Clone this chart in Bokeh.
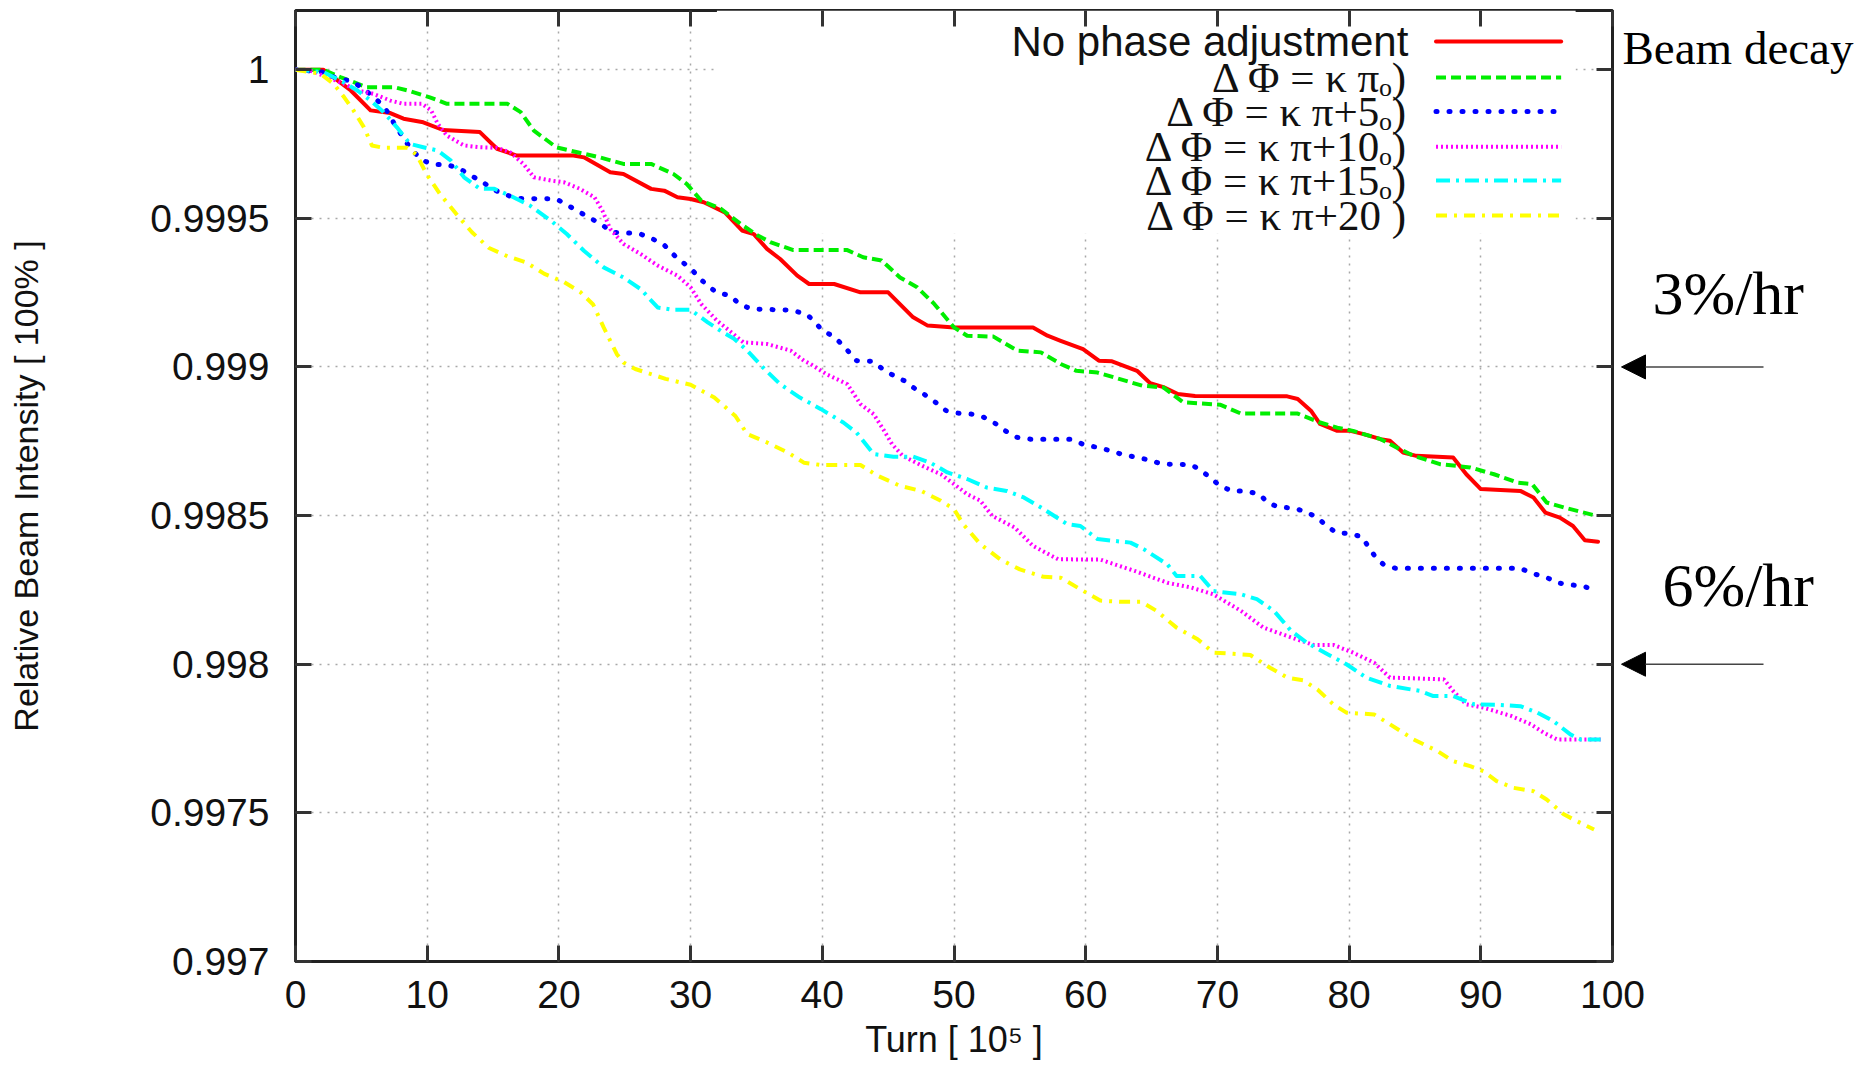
from bokeh.plotting import figure
from bokeh.layouts import row
from bokeh.models import (Range1d, FixedTicker, LinearAxis, Label, Arrow,
                          NormalHead, BoxAnnotation)
from bokeh.embed import file_html
from bokeh.resources import INLINE

# ---------------- data ----------------
red_x = [0, 2.1, 4.2, 5.7, 7.2, 8.2, 9.7, 11.2, 14.0, 15.3, 16.8, 21.1, 21.9, 23.9, 24.9,
         27.0, 28.0, 29.0, 30.0, 31.0, 32.6, 33.9, 34.8, 35.8, 36.8, 38.1, 39.0, 40.9,
         42.9, 45.0, 46.9, 48.0, 50.0, 56.0, 57.1, 58.1, 59.8, 61.0, 62.0, 63.9, 64.9,
         65.9, 67.0, 68.3, 75.3, 76.1, 77.1, 77.8, 79.1, 80.1, 81.1, 82.4, 83.1, 84.1,
         85.1, 87.9, 88.9, 90.0, 93.0, 94.0, 94.9, 96.0, 97.0, 97.9, 98.9]
red_y = [1.000000, 1.000000, 0.999930, 0.999863, 0.999854, 0.999835, 0.999823, 0.999797,
         0.999790, 0.999734, 0.999711, 0.999711, 0.999705, 0.999655, 0.999649, 0.999599,
         0.999593, 0.999571, 0.999565, 0.999554, 0.999520, 0.999459, 0.999447, 0.999397,
         0.999363, 0.999307, 0.999279, 0.999279, 0.999251, 0.999251, 0.999167, 0.999139,
         0.999133, 0.999133, 0.999105, 0.999088, 0.999060, 0.999021, 0.999019, 0.998987,
         0.998945, 0.998932, 0.998909, 0.998902, 0.998901, 0.998892, 0.998853, 0.998808,
         0.998785, 0.998785, 0.998774, 0.998757, 0.998752, 0.998712, 0.998701, 0.998695,
         0.998639, 0.998589, 0.998583, 0.998561, 0.998510, 0.998493, 0.998465, 0.998417,
         0.998412]

green_x = [0, 2.1, 3.4, 5.4, 7.5, 8.5, 10.2, 11.5, 16.1, 17.1, 18.1, 19.8, 21.4, 23.1, 24.9,
           27.0, 28.7, 29.7, 30.8, 32.3, 33.8, 35.1, 36.1, 37.8, 41.9, 43.1, 44.5, 45.9,
           47.2, 48.5, 50.0, 51.0, 53.0, 54.8, 56.6, 58.1, 59.3, 60.9, 62.6, 64.3, 65.9,
           67.4, 70.2, 71.8, 76.1, 77.8, 79.1, 80.3, 82.4, 83.6, 84.9, 86.9, 89.2, 91.0,
           92.8, 93.9, 95.0, 96.5, 98.8]
green_y = [1.000000, 1.000000, 0.999975, 0.999941, 0.999941, 0.999930, 0.999907, 0.999885,
           0.999885, 0.999857, 0.999795, 0.999739, 0.999722, 0.999705, 0.999683, 0.999683,
           0.999649, 0.999616, 0.999560, 0.999532, 0.999481, 0.999442, 0.999419, 0.999393,
           0.999393, 0.999369, 0.999358, 0.999301, 0.999268, 0.999212, 0.999133, 0.999105,
           0.999102, 0.999055, 0.999049, 0.999010, 0.998987, 0.998981, 0.998959, 0.998937,
           0.998931, 0.998881, 0.998873, 0.998843, 0.998843, 0.998813, 0.998796, 0.998785,
           0.998757, 0.998729, 0.998701, 0.998673, 0.998662, 0.998639, 0.998611, 0.998606,
           0.998544, 0.998525, 0.998499]

blue_x = [0, 2.1, 3.2, 4.2, 5.0, 5.8, 6.5, 7.0, 7.5, 8.4, 9.0, 9.7, 10.5, 11.5, 12.5, 13.3,
          14.2, 14.9, 15.8, 16.8, 19.8, 20.7, 21.6, 22.5, 23.3, 24.1, 25.2, 26.2, 27.1,
          28.0, 29.0, 30.0, 30.6, 31.3, 32.0, 33.0, 33.7, 34.6, 37.6, 38.8, 39.4, 40.0,
          40.9, 41.6, 42.6, 43.8, 44.5, 45.3, 46.2, 46.9, 47.8, 48.6, 49.4, 50.2, 51.4,
          52.3, 53.2, 53.9, 54.8, 55.8, 58.8, 59.8, 60.9, 61.9, 62.9, 63.9, 64.9, 65.8,
          68.0, 68.7, 69.5, 70.2, 71.1, 72.1, 73.2, 73.8, 74.6, 75.8, 76.7, 77.6, 78.2,
          79.0, 80.1, 81.0, 81.5, 82.0, 82.6, 83.5, 93.0, 93.9, 94.9, 95.8, 96.8, 97.8,
          98.8]
blue_y = [1.000000, 0.999992, 0.999969, 0.999963, 0.999941, 0.999913, 0.999885, 0.999857,
          0.999818, 0.999756, 0.999722, 0.999694, 0.999681, 0.999681, 0.999666, 0.999644,
          0.999623, 0.999599, 0.999582, 0.999567, 0.999565, 0.999543, 0.999520, 0.999498,
          0.999477, 0.999453, 0.999451, 0.999447, 0.999431, 0.999410, 0.999365, 0.999332,
          0.999302, 0.999273, 0.999250, 0.999240, 0.999212, 0.999195, 0.999191, 0.999178,
          0.999153, 0.999122, 0.999102, 0.999071, 0.999021, 0.999019, 0.998996, 0.998974,
          0.998954, 0.998931, 0.998906, 0.998881, 0.998853, 0.998845, 0.998841, 0.998830,
          0.998808, 0.998785, 0.998763, 0.998757, 0.998757, 0.998740, 0.998729, 0.998718,
          0.998704, 0.998696, 0.998686, 0.998673, 0.998671, 0.998654, 0.998626, 0.998600,
          0.998583, 0.998583, 0.998572, 0.998544, 0.998529, 0.998525, 0.998513, 0.998493,
          0.998469, 0.998443, 0.998439, 0.998428, 0.998392, 0.998361, 0.998336, 0.998323,
          0.998323, 0.998305, 0.998294, 0.998274, 0.998267, 0.998263, 0.998244]

magenta_x = [0, 1.1, 2.4, 3.7, 4.7, 5.9, 7.2, 8.2, 9.6, 10.3, 10.8, 11.5, 12.8, 14.0, 15.3,
             16.3, 17.3, 18.1, 19.4, 20.4, 21.6, 22.7, 23.3, 23.9, 24.9, 26.2, 27.5, 29.0,
             30.0, 30.8, 32.0, 33.0, 34.0, 35.8, 37.6, 38.6, 39.1, 40.3, 41.9, 42.9, 43.9,
             44.7, 45.3, 46.1, 47.6, 49.0, 50.0, 51.0, 52.0, 52.9, 54.6, 56.0, 57.9, 61.1,
             63.7, 66.2, 68.0, 69.7, 71.8, 73.5, 75.8, 77.3, 78.8, 80.3, 81.9, 83.1, 87.2,
             87.9, 88.9, 90.2, 92.3, 93.8, 94.8, 95.8, 99.1]
magenta_y = [1.000000, 0.999997, 0.999975, 0.999952, 0.999930, 0.999919, 0.999896, 0.999885,
             0.999885, 0.999863, 0.999818, 0.999778, 0.999745, 0.999739, 0.999737, 0.999722,
             0.999683, 0.999638, 0.999627, 0.999621, 0.999599, 0.999571, 0.999526, 0.999464,
             0.999414, 0.999380, 0.999341, 0.999307, 0.999268, 0.999212, 0.999156, 0.999120,
             0.999083, 0.999077, 0.999055, 0.999021, 0.999010, 0.998976, 0.998942, 0.998875,
             0.998841, 0.998785, 0.998740, 0.998701, 0.998667, 0.998639, 0.998606, 0.998572,
             0.998550, 0.998499, 0.998460, 0.998398, 0.998353, 0.998352, 0.998314, 0.998274,
             0.998258, 0.998235, 0.998179, 0.998123, 0.998087, 0.998065, 0.998065, 0.998039,
             0.998005, 0.997955, 0.997949, 0.997910, 0.997865, 0.997854, 0.997826, 0.997798,
             0.997769, 0.997747, 0.997747]

cyan_x = [0, 2.1, 3.4, 4.7, 5.7, 6.7, 7.7, 8.7, 9.7, 10.8, 11.8, 12.8, 14.0, 15.1, 16.3,
          17.8, 19.4, 20.6, 21.9, 23.4, 24.9, 26.2, 27.5, 28.7, 30.0, 31.3, 32.5, 33.3,
          34.3, 35.5, 36.8, 38.3, 39.9, 41.6, 42.6, 43.9, 45.4, 46.9, 48.2, 49.5, 51.0,
          52.5, 54.0, 55.3, 56.8, 58.6, 59.6, 60.9, 63.4, 64.4, 66.2, 66.9, 68.7, 69.7,
          71.8, 73.0, 74.3, 75.6, 76.8, 78.4, 79.8, 81.3, 83.1, 85.4, 86.4, 87.9, 89.5,
          91.5, 93.0, 94.3, 95.5, 96.8, 97.6, 99.1]
cyan_y = [1.000000, 0.999992, 0.999964, 0.999930, 0.999896, 0.999857, 0.999806, 0.999750,
          0.999739, 0.999728, 0.999694, 0.999638, 0.999599, 0.999599, 0.999576, 0.999543,
          0.999492, 0.999447, 0.999391, 0.999335, 0.999301, 0.999262, 0.999200, 0.999192,
          0.999192, 0.999150, 0.999115, 0.999095, 0.999055, 0.998998, 0.998942, 0.998897,
          0.998858, 0.998813, 0.998779, 0.998707, 0.998698, 0.998698, 0.998678, 0.998645,
          0.998623, 0.998594, 0.998583, 0.998561, 0.998522, 0.998471, 0.998465, 0.998421,
          0.998409, 0.998387, 0.998336, 0.998297, 0.998297, 0.998246, 0.998235, 0.998219,
          0.998179, 0.998112, 0.998072, 0.998033, 0.998000, 0.997955, 0.997927, 0.997910,
          0.997893, 0.997893, 0.997865, 0.997863, 0.997859, 0.997837, 0.997809, 0.997764,
          0.997747, 0.997747]

yellow_x = [0, 1.9, 2.9, 3.7, 4.4, 5.2, 5.8, 6.7, 8.5, 9.2, 10.0, 11.0, 12.2, 13.4, 14.7,
            16.1, 17.5, 18.9, 20.4, 21.6, 22.6, 23.4, 24.4, 24.9, 25.8, 28.1, 30.0, 31.8,
            33.4, 34.3, 35.8, 37.4, 38.6, 39.9, 42.9, 44.2, 45.9, 47.5, 49.0, 50.0, 50.7,
            52.0, 53.5, 55.0, 56.8, 58.1, 59.6, 61.1, 62.6, 64.2, 65.4, 66.9, 68.5, 69.7,
            71.2, 72.5, 74.0, 75.3, 76.5, 77.6, 78.8, 79.8, 81.9, 83.1, 84.9, 86.7, 87.9,
            89.2, 90.2, 91.2, 92.5, 94.0, 95.0, 96.3, 97.3, 98.6]
yellow_y = [1.000000, 0.999986, 0.999952, 0.999907, 0.999863, 0.999806, 0.999745, 0.999737,
            0.999737, 0.999714, 0.999645, 0.999580, 0.999515, 0.999453, 0.999400, 0.999372,
            0.999352, 0.999313, 0.999285, 0.999253, 0.999210, 0.999133, 0.999043, 0.999015,
            0.998993, 0.998960, 0.998940, 0.998897, 0.998835, 0.998774, 0.998746, 0.998712,
            0.998678, 0.998670, 0.998670, 0.998634, 0.998600, 0.998583, 0.998550, 0.998522,
            0.998471, 0.998404, 0.998353, 0.998319, 0.998294, 0.998291, 0.998252, 0.998214,
            0.998210, 0.998210, 0.998179, 0.998123, 0.998084, 0.998039, 0.998035, 0.998031,
            0.997988, 0.997955, 0.997946, 0.997915, 0.997865, 0.997837, 0.997831, 0.997798,
            0.997747, 0.997708, 0.997674, 0.997657, 0.997640, 0.997607, 0.997584, 0.997573,
            0.997545, 0.997495, 0.997472, 0.997444]

series_names = ["No phase adjustment",
                "\u0394 \u03a6 = \u03ba \u03c0\u2092)",
                "\u0394 \u03a6 = \u03ba \u03c0+5\u2092)",
                "\u0394 \u03a6 = \u03ba \u03c0+10\u2092)",
                "\u0394 \u03a6 = \u03ba \u03c0+15\u2092)",
                "\u0394 \u03a6 = \u03ba \u03c0+20 )"]

x_ticks = [0, 10, 20, 30, 40, 50, 60, 70, 80, 90, 100]
y_ticks = [0.997, 0.9975, 0.998, 0.9985, 0.999, 0.9995, 1.0]
y_tick_labels = ["0.997", "0.9975", "0.998", "0.9985", "0.999", "0.9995", "1"]

rate_levels = [0.999, 0.998]
rate_labels = ["3%/hr", "6%/hr"]
side_title = "Beam decay"

# ---------------- styles ----------------
SANS = "Liberation Sans"
SERIF = "Liberation Serif"
styles = [
    dict(line_color="#ff0000", line_width=4, line_dash="solid", line_cap="round"),
    dict(line_color="#00ee00", line_width=4, line_dash="10 5", line_cap="butt"),
    dict(line_color="#0000ff", line_width=5, line_dash="1 12", line_cap="round"),
    dict(line_color="#ff00ff", line_width=4, line_dash="2 3", line_cap="butt"),
    dict(line_color="#00ffff", line_width=4, line_dash="14 6 3 6", line_cap="butt"),
    dict(line_color="#ffff00", line_width=4, line_dash="11 7 3 7", line_cap="butt"),
]

FRAME_W, FRAME_H = 1317, 951
TOP = 10
RIGHT_PAD = 40

p = figure(frame_width=FRAME_W, frame_height=FRAME_H,
           min_border_left=295, min_border_right=RIGHT_PAD, min_border_top=TOP,
           min_border_bottom=106,
           x_range=Range1d(0, 100), y_range=Range1d(0.997, 1.000199),
           output_backend="svg", toolbar_location=None,
           background_fill_color="white", border_fill_color="white")

p.outline_line_color = "#222222"
p.outline_line_width = 3

# grids
p.xgrid.ticker = FixedTicker(ticks=x_ticks)
p.ygrid.ticker = FixedTicker(ticks=y_ticks)
for g in (p.xgrid, p.ygrid):
    g.grid_line_color = "#a8a8a8"
    g.grid_line_width = 1.5
    g.grid_line_dash = "2 6"

# axes
xa = p.xaxis[0]
ya = p.yaxis[0]
xa.ticker = FixedTicker(ticks=x_ticks)
ya.ticker = FixedTicker(ticks=y_ticks)
ya.major_label_overrides = {t: s for t, s in zip(y_ticks, y_tick_labels)}
for ax in (xa, ya):
    ax.axis_line_color = None
    ax.major_tick_in = 16
    ax.major_tick_out = 0
    ax.major_tick_line_width = 3
    ax.major_tick_line_color = "#333333"
    ax.minor_tick_line_color = None
    ax.major_label_text_font = SANS
    ax.major_label_text_font_size = "39px"
    ax.major_label_text_color = "#111111"
xa.major_label_standoff = 19
ya.major_label_standoff = 26

ya.axis_label = "Relative Beam Intensity [ 100% ]"
ya.axis_label_text_font = SANS
ya.axis_label_text_font_size = "34px"
ya.axis_label_text_font_style = "normal"
ya.axis_label_text_color = "#111111"
ya.axis_label_standoff = 102

xa.axis_label = "Turn [ 10\u2075 ]"
xa.axis_label_text_font = SANS
xa.axis_label_text_font_size = "36px"
xa.axis_label_text_font_style = "normal"
xa.axis_label_text_color = "#111111"
xa.axis_label_standoff = 8

# mirrored ticks on right and top
ra = LinearAxis(ticker=FixedTicker(ticks=y_ticks))
ta = LinearAxis(ticker=FixedTicker(ticks=x_ticks))
for ax in (ra, ta):
    ax.axis_line_color = None
    ax.major_tick_in = 16
    ax.major_tick_out = 0
    ax.major_tick_line_width = 3
    ax.major_tick_line_color = "#333333"
    ax.minor_tick_line_color = None
    ax.major_label_text_font_size = "1px"
    ax.major_label_text_color = None
    ax.major_label_standoff = 0
p.add_layout(ra, "right")
p.add_layout(ta, "above")

# opaque key background (covers the grid, like gnuplot's key box)
key_box = BoxAnnotation(left=32.0, right=97.2, bottom=0.999448,
                        fill_color="white", fill_alpha=1.0, line_color=None,
                        level="underlay")
p.add_layout(key_box)

all_x = [red_x, green_x, blue_x, magenta_x, cyan_x, yellow_x]
all_y = [red_y, green_y, blue_y, magenta_y, cyan_y, yellow_y]
for xs, ys, st in zip(all_x, all_y, styles):
    p.line(xs, ys, line_join="round", **st)

# key (text right-aligned, sample to the right, gnuplot style)
key_text_x = 84.5
key_sample = (86.6, 96.1)
key_rows = [1.000095, 0.999974, 0.999859, 0.999741, 0.999627, 0.999509]
for i, (name, st, ry) in enumerate(zip(series_names, styles, key_rows)):
    p.add_layout(Label(x=key_text_x, y=ry, text=name, text_align="right",
                       text_baseline="middle",
                       text_font=SANS if i == 0 else SERIF,
                       text_font_size="42px" if i == 0 else "43px",
                       text_color="#111111"))
    p.segment(x0=[key_sample[0]], y0=[ry], x1=[key_sample[1]], y1=[ry], **st)

# ---------------- side panel with the decay-rate annotations ----------------
# overlaps the right padding of the main plot (transparent), origin = frame's right edge
SIDE_W = 254
q = figure(frame_width=SIDE_W, frame_height=FRAME_H,
           min_border_left=0, min_border_right=0, min_border_top=TOP, min_border_bottom=0,
           x_range=Range1d(0, SIDE_W), y_range=p.y_range,
           x_axis_type=None, y_axis_type=None,
           output_backend="svg", toolbar_location=None,
           background_fill_color=None, border_fill_color=None,
           margin=(0, 0, 0, -RIGHT_PAD))
q.outline_line_color = None

q.add_layout(Label(x=10, y=1.0000714, text=side_title, text_align="left",
                   text_baseline="alphabetic", text_font=SERIF, text_font_size="47px",
                   text_color="black"))
rate_text_x = [40, 50]
rate_text_y = [0.999250, 0.998267]
for lvl, txt, tx, ty in zip(rate_levels, rate_labels, rate_text_x, rate_text_y):
    q.add_layout(Label(x=tx, y=ty, text=txt, text_align="left", text_baseline="alphabetic",
                       text_font=SERIF, text_font_size="62px", text_color="black"))
    q.add_layout(Arrow(x_start=151, y_start=lvl, x_end=9, y_end=lvl,
                       line_color="#444444", line_width=1.5,
                       end=NormalHead(size=24, fill_color="black", line_color="black"),
                       start=None))

layout = row(p, q)
open("out.html", "w").write(file_html(layout, INLINE))
